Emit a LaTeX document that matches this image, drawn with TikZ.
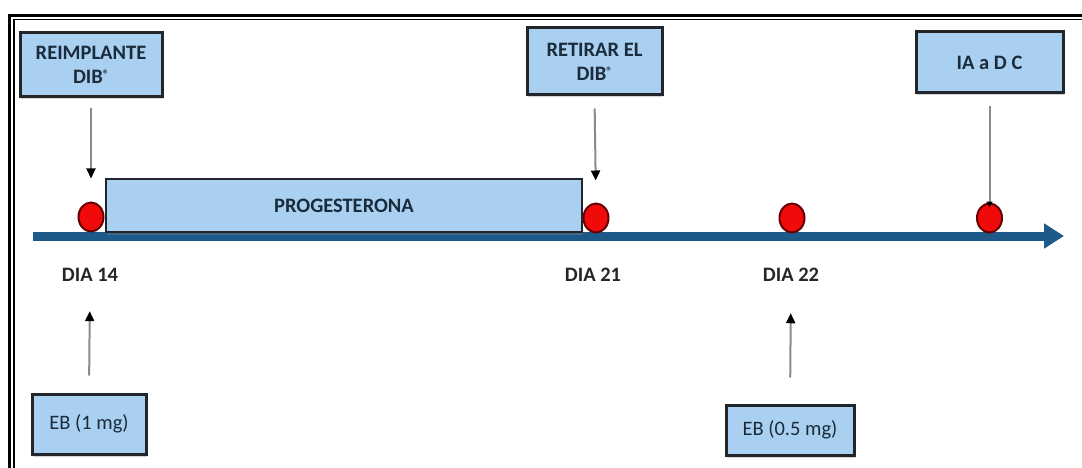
\documentclass[tikz,border=0pt]{standalone}
\usepackage{fontspec}
\setmainfont{Carlito}
\usetikzlibrary{shadows,arrows.meta,shapes.geometric}
\definecolor{boxfill}{HTML}{A9D0F0}
\definecolor{boxline}{HTML}{22262A}
\definecolor{axisblue}{HTML}{1D5A8A}
\definecolor{txtnavy}{HTML}{1A2B3C}
\definecolor{dotred}{HTML}{F00A0A}
\definecolor{connline}{HTML}{8A8A8A}
\newcommand{\regmark}{\raisebox{5pt}{\fontsize{12}{12}\selectfont ®}}
\tikzset{
  infobox/.style={draw=boxline, line width=3pt, fill=boxfill, inner sep=0pt,
    align=center, font=\fontsize{20.5}{24}\selectfont\bfseries, text=txtnavy,
    drop shadow={opacity=0.35, shadow xshift=1pt, shadow yshift=-2.5pt}},
  daydot/.style={ellipse, draw=black!60!red, line width=2pt, fill=dotred,
    minimum width=25pt, minimum height=29pt, inner sep=0pt},
  daylabel/.style={font=\fontsize{20.5}{24}\selectfont\bfseries, text=black!85},
  connector/.style={draw=connline, line width=2pt},
  tip/.style={-{Triangle[length=10pt,width=9pt,color=black]}},
}
\begin{document}
\begin{tikzpicture}[x=1pt,y=-1pt]
\useasboundingbox (0,0) rectangle (1082,468);
\clip (0,0) rectangle (1082,468);
% frame
\draw[line width=3.5pt] (9.5,480) -- (9.5,15.5) -- (1095,15.5);
\draw[line width=1.2pt] (14,480) -- (14,19.5) -- (1095,19.5);
% axis
\coordinate (axs) at (33,236);
\coordinate (axe) at (1064,236);
\draw[line width=9pt, draw=axisblue, -{Triangle[length=20pt,width=24pt]}] (axs) -- (axe);
% progesterone box
\node[infobox, minimum width=476pt, minimum height=53pt, line width=2.2pt] (prog) at (344,205.5) {PROGESTERONA};
% top boxes
\node[infobox, minimum width=142pt, minimum height=64pt] (reim) at (91,65) {REIMPLANTE\\DIB\regmark};
\node[infobox, minimum width=135pt, minimum height=67pt] (ret) at (594.5,61.5) {RETIRAR EL\\DIB\regmark};
\node[infobox, minimum width=147pt, minimum height=61pt] (ia) at (989.5,62.5) {IA a D C};
% bottom boxes
\node[infobox, minimum width=114pt, minimum height=60pt, font=\fontsize{20.5}{24}\selectfont] (eb1) at (89,424) {EB (1 mg)};
\node[infobox, minimum width=128pt, minimum height=50pt, font=\fontsize{20.5}{24}\selectfont] (eb2) at (790,430) {EB (0.5 mg)};
% dots
\node[daydot] (d14) at (91,217) {};
\node[daydot] (d21) at (596,218) {};
\node[daydot] (d22) at (792,218) {};
\node[daydot] (dia) at (989.5,218) {};
% day labels
\node[daylabel] (l14) at (90,275) {DIA 14};
\node[daylabel] (l21) at (593,275) {DIA 21};
\node[daylabel] (l22) at (791,275) {DIA 22};
% connectors
\draw[connector, tip, shorten <=10pt, shorten >=23pt] (reim.south) -- (d14.north);
\draw[connector, tip, shorten <=12pt, shorten >=22pt] (ret.south) -- (d21.north);
\draw[connector, -{Triangle[length=6pt,width=6pt,color=black]}, shorten <=12pt, shorten >=-5pt] (ia.south) -- (dia.north);
\draw[connector, tip, shorten <=17pt, shorten >=26pt] (eb1.north) -- (l14.south);
\draw[connector, tip, shorten <=26pt, shorten >=28pt] (eb2.north) -- (l22.south);
\end{tikzpicture}
\end{document}
